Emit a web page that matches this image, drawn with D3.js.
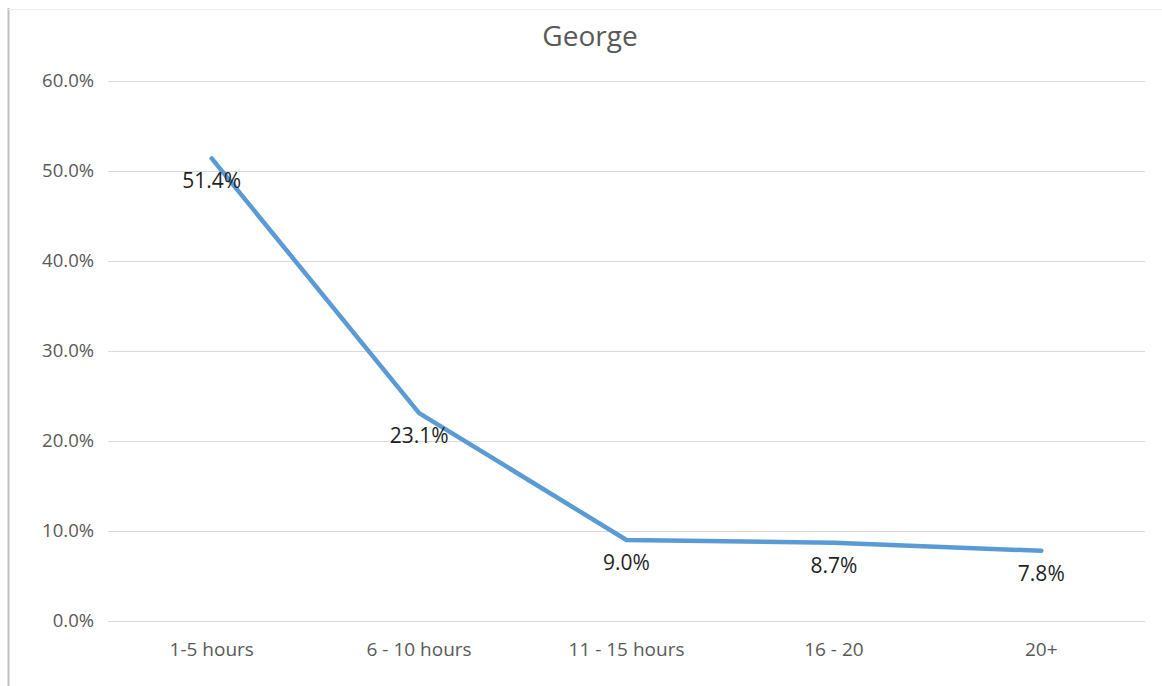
<!DOCTYPE html>
<html>
<head>
<meta charset="utf-8">
<script src="https://cdn.jsdelivr.net/npm/d3@7"></script>
<style>
  html, body { margin: 0; padding: 0; background: #fff; }
  svg { display: block; }
</style>
</head>
<body>
<svg id="chart" width="1162" height="686"></svg>
<script>
// Chart data
const title = "George";
const categories = ["1-5 hours", "6 - 10 hours", "11 - 15 hours", "16 - 20", "20+"];
const values = [51.4, 23.1, 9.0, 8.7, 7.8];
const yTicks = [0, 10, 20, 30, 40, 50, 60];

const width = 1162, height = 686;
const margin = { top: 81, right: 17, bottom: 65, left: 108 };
const font = "'Open Sans', 'Noto Sans', sans-serif";

const svg = d3.select("#chart");

// Outer frame edges
svg.append("line")
  .attr("x1", 8.5).attr("x2", 8.5).attr("y1", 8).attr("y2", height)
  .attr("stroke", "#bfbfbf").attr("stroke-width", 2);
svg.append("line")
  .attr("x1", 8).attr("x2", width).attr("y1", 9.5).attr("y2", 9.5)
  .attr("stroke", "#ececec").attr("stroke-width", 1);

const x = d3.scaleBand()
  .domain(categories)
  .range([margin.left, width - margin.right]);

const y = d3.scaleLinear()
  .domain([0, 60])
  .range([height - margin.bottom, margin.top]);

// Gridlines
svg.append("g")
  .selectAll("line")
  .data(yTicks)
  .join("line")
  .attr("x1", margin.left).attr("x2", width - margin.right)
  .attr("y1", d => Math.round(y(d)) + 0.5).attr("y2", d => Math.round(y(d)) + 0.5)
  .attr("stroke", "#d9d9d9").attr("stroke-width", 1);

// Y axis labels
const yAxis = d3.axisLeft(y)
  .tickValues(yTicks)
  .tickFormat(d => d.toFixed(1) + "%")
  .tickSize(0)
  .tickPadding(14);
svg.append("g")
  .attr("transform", `translate(${margin.left},0)`)
  .call(yAxis)
  .call(g => g.select(".domain").remove())
  .call(g => g.selectAll("text")
    .attr("font-family", font).attr("font-size", 18.5).attr("fill", "#595959"));

// X axis labels
const xAxis = d3.axisBottom(x).tickSize(0).tickPadding(22);
svg.append("g")
  .attr("transform", `translate(0,${height - margin.bottom})`)
  .call(xAxis)
  .call(g => g.select(".domain").remove())
  .call(g => g.selectAll("text")
    .attr("font-family", font).attr("font-size", 19).attr("fill", "#595959"));

// Series line
const line = d3.line()
  .x((d, i) => x(categories[i]) + x.bandwidth() / 2)
  .y(d => y(d));

svg.append("path")
  .datum(values)
  .attr("d", line)
  .attr("fill", "none")
  .attr("stroke", "#5b9bd5")
  .attr("stroke-width", 4.5)
  .attr("stroke-linejoin", "round")
  .attr("stroke-linecap", "round");

// Data labels below each point
svg.append("g")
  .selectAll("text")
  .data(values)
  .join("text")
  .attr("x", (d, i) => x(categories[i]) + x.bandwidth() / 2)
  .attr("y", d => y(d) + 30)
  .attr("text-anchor", "middle")
  .attr("font-family", font)
  .attr("font-size", 21)
  .attr("fill", "#1f1f1f")
  .text(d => d.toFixed(1) + "%");

// Title
svg.append("text")
  .attr("x", 590)
  .attr("y", 46)
  .attr("text-anchor", "middle")
  .attr("font-family", font)
  .attr("font-size", 28)
  .attr("fill", "#595959")
  .text(title);
</script>
</body>
</html>
